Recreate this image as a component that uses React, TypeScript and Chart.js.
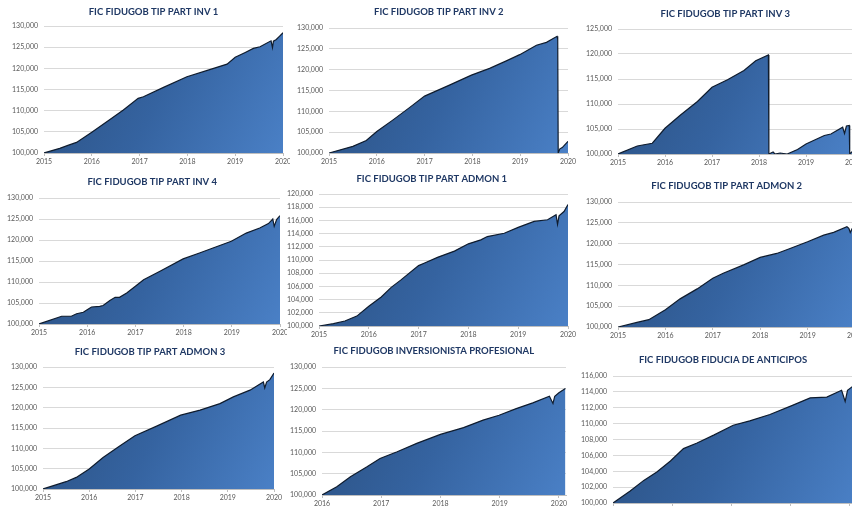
import React, { useEffect, useRef } from "react";
import { Chart, registerables } from "chart.js";

Chart.register(...registerables);

// ---------- DATA ----------
const yearTicks2015 = [2015, 2016, 2017, 2018, 2019, 2020];
const yearTicks2016 = [2016, 2017, 2018, 2019, 2020];

const inv1Years = [2015.0, 2015.33, 2015.5, 2015.68, 2016.0, 2016.35, 2016.66, 2016.97, 2017.08, 2017.5, 2017.99, 2018.4, 2018.83, 2019.0, 2019.2, 2019.38, 2019.52, 2019.75, 2019.78, 2019.8, 2019.86, 2019.93, 2020.0];
const inv1Values = [100000, 101100, 101800, 102500, 104900, 107650, 110150, 112900, 113300, 115500, 118000, 119450, 121000, 122600, 123700, 124700, 125100, 126500, 124900, 126400, 126800, 127600, 128400];

const inv2Years = [2015.0, 2015.5, 2015.78, 2016.0, 2016.34, 2016.69, 2017.0, 2017.52, 2017.98, 2018.36, 2018.71, 2018.99, 2019.34, 2019.55, 2019.77, 2019.785, 2019.795, 2019.83, 2019.88, 2020.0];
const inv2Values = [100000, 101600, 103000, 105150, 107950, 110950, 113650, 116300, 118700, 120300, 122100, 123600, 125850, 126550, 128000, 127200, 100000, 101000, 101300, 102800];

const inv3Years = [2015.0, 2015.41, 2015.73, 2016.0, 2016.33, 2016.69, 2017.0, 2017.33, 2017.68, 2017.93, 2018.2, 2018.21, 2018.3, 2018.34, 2018.45, 2018.6, 2018.82, 2019.0, 2019.39, 2019.53, 2019.78, 2019.82, 2019.86, 2019.92, 2019.93, 2020.0];
const inv3Values = [100000, 101600, 102150, 105150, 107800, 110500, 113350, 114850, 116700, 118650, 119800, 100000, 100400, 100000, 100200, 100000, 100900, 102000, 103700, 104000, 105350, 104100, 105600, 105700, 100000, 100600];

const inv4Years = [2015.0, 2015.47, 2015.67, 2015.78, 2015.92, 2016.0, 2016.09, 2016.26, 2016.33, 2016.47, 2016.58, 2016.67, 2016.82, 2017.0, 2017.17, 2017.51, 2017.99, 2018.33, 2018.61, 2018.99, 2019.3, 2019.58, 2019.76, 2019.85, 2019.88, 2019.93, 2020.0];
const inv4Values = [100000, 101850, 101850, 102450, 102800, 103400, 104050, 104200, 104400, 105600, 106350, 106350, 107400, 109000, 110550, 112550, 115500, 116900, 118100, 119700, 121650, 122850, 123900, 125000, 123250, 124850, 125800];

const admon1Years = [2015.0, 2015.29, 2015.52, 2015.76, 2016.0, 2016.25, 2016.45, 2016.64, 2017.0, 2017.11, 2017.38, 2017.72, 2018.0, 2018.25, 2018.38, 2018.72, 2019.0, 2019.32, 2019.59, 2019.76, 2019.79, 2019.82, 2019.92, 2020.0];
const admon1Values = [100000, 100350, 100750, 101500, 103000, 104400, 105850, 106950, 109150, 109500, 110400, 111350, 112450, 113050, 113550, 114050, 114950, 115850, 116100, 116850, 115400, 116700, 117350, 118400];

const admon2Years = [2015.0, 2015.4, 2015.65, 2016.0, 2016.31, 2016.67, 2017.0, 2017.22, 2017.65, 2018.0, 2018.35, 2018.63, 2019.0, 2019.34, 2019.55, 2019.83, 2019.87, 2019.9, 2019.94, 2020.0];
const admon2Values = [100000, 101100, 101750, 104150, 106750, 109150, 111700, 112900, 114900, 116700, 117650, 118850, 120450, 122050, 122700, 124050, 123700, 122700, 123600, 124500];

const admon3Years = [2015.0, 2015.5, 2015.72, 2016.0, 2016.3, 2016.66, 2016.99, 2017.46, 2017.98, 2018.4, 2018.83, 2019.12, 2019.48, 2019.77, 2019.8, 2019.84, 2019.91, 2020.0];
const admon3Values = [100000, 101800, 102850, 104900, 107750, 110550, 113100, 115450, 118150, 119400, 121000, 122650, 124300, 126300, 124850, 126300, 126900, 128500];

const profYears = [2016.0, 2016.25, 2016.48, 2016.76, 2016.98, 2017.27, 2017.6, 2018.0, 2018.39, 2018.72, 2018.99, 2019.28, 2019.56, 2019.84, 2019.9, 2019.93, 2020.0, 2020.11];
const profValues = [100000, 101950, 104300, 106600, 108550, 110150, 112100, 114200, 115800, 117550, 118700, 120250, 121600, 123150, 121450, 123150, 123950, 124950];

const antYears = [2016.0, 2016.29, 2016.52, 2016.74, 2016.97, 2017.19, 2017.42, 2017.7, 2018.03, 2018.31, 2018.65, 2019.03, 2019.33, 2019.61, 2019.86, 2019.92, 2019.96, 2020.03, 2020.1];
const antValues = [100000, 101500, 102850, 103900, 105300, 106850, 107550, 108550, 109800, 110350, 111150, 112300, 113250, 113350, 114200, 112800, 114200, 114600, 115000];

const titles = [
  "FIC FIDUGOB TIP PART INV 1",
  "FIC FIDUGOB TIP PART INV 2",
  "FIC FIDUGOB TIP PART INV 3",
  "FIC FIDUGOB TIP PART INV 4",
  "FIC FIDUGOB TIP PART ADMON 1",
  "FIC FIDUGOB TIP PART ADMON 2",
  "FIC FIDUGOB TIP PART ADMON 3",
  "FIC FIDUGOB INVERSIONISTA PROFESIONAL",
  "FIC FIDUGOB FIDUCIA DE ANTICIPOS",
];

// ---------- LAYOUT ----------
type Box = { l: number; t: number; w: number; h: number };
type Area = { l: number; t: number; r: number; b: number };
type Panel = {
  title: string;
  xs: number[];
  ys: number[];
  xTicks: number[];
  xMin: number;
  xMax: number;
  yMin: number;
  yMax: number;
  yStep: number;
  clip: Box;
  area: Area;
  gap: number;
  titleX: number;
};

const panels: Panel[] = [
  { title: titles[0], xs: inv1Years, ys: inv1Values, xTicks: yearTicks2015, xMin: 2015, xMax: 2020, yMin: 100000, yMax: 130000, yStep: 5000, clip: { l: 0, t: 0, w: 290, h: 170 }, area: { l: 44, t: 26, r: 283, b: 153 }, gap: 14.5, titleX: 153.5 },
  { title: titles[1], xs: inv2Years, ys: inv2Values, xTicks: yearTicks2015, xMin: 2015, xMax: 2020, yMin: 100000, yMax: 130000, yStep: 5000, clip: { l: 290, t: 0, w: 290, h: 170 }, area: { l: 329, t: 28, r: 568, b: 153 }, gap: 16, titleX: 438.8 },
  { title: titles[2], xs: inv3Years, ys: inv3Values, xTicks: yearTicks2015, xMin: 2015, xMax: 2020, yMin: 100000, yMax: 125000, yStep: 5000, clip: { l: 580, t: 0, w: 272, h: 170 }, area: { l: 618, t: 29, r: 853, b: 154 }, gap: 15, titleX: 725.3 },
  { title: titles[3], xs: inv4Years, ys: inv4Values, xTicks: yearTicks2015, xMin: 2015, xMax: 2020, yMin: 100000, yMax: 130000, yStep: 5000, clip: { l: 0, t: 170, w: 287, h: 170 }, area: { l: 39, t: 198, r: 280, b: 324 }, gap: 16, titleX: 152.2 },
  { title: titles[4], xs: admon1Years, ys: admon1Values, xTicks: yearTicks2015, xMin: 2015, xMax: 2020, yMin: 100000, yMax: 120000, yStep: 2000, clip: { l: 287, t: 170, w: 293, h: 170 }, area: { l: 319, t: 194, r: 568, b: 326 }, gap: 15, titleX: 431.8 },
  { title: titles[5], xs: admon2Years, ys: admon2Values, xTicks: yearTicks2015, xMin: 2015, xMax: 2020, yMin: 100000, yMax: 130000, yStep: 5000, clip: { l: 580, t: 170, w: 272, h: 170 }, area: { l: 618, t: 202, r: 855, b: 327 }, gap: 16, titleX: 726.7 },
  { title: titles[6], xs: admon3Years, ys: admon3Values, xTicks: yearTicks2015, xMin: 2015, xMax: 2020, yMin: 100000, yMax: 130000, yStep: 5000, clip: { l: 0, t: 340, w: 290, h: 168 }, area: { l: 43, t: 367, r: 274, b: 489 }, gap: 15, titleX: 150 },
  { title: titles[7], xs: profYears, ys: profValues, xTicks: yearTicks2016, xMin: 2016, xMax: 2020.12, yMin: 100000, yMax: 130000, yStep: 5000, clip: { l: 290, t: 340, w: 290, h: 168 }, area: { l: 322, t: 367, r: 566, b: 495 }, gap: 16, titleX: 433.8 },
  { title: titles[8], xs: antYears, ys: antValues, xTicks: yearTicks2016, xMin: 2016, xMax: 2020.12, yMin: 100000, yMax: 116000, yStep: 2000, clip: { l: 580, t: 340, w: 272, h: 168 }, area: { l: 613, t: 376, r: 857, b: 503 }, gap: 16, titleX: 723 },
];

const Y_AXIS_W = 44;
const TOP_ROOM = 24;
const PAD_RIGHT = 16;
const X_AXIS_H = 18;
const TITLE_FONT = 9.5;
const TICK_FONT = 7;

function AreaPanel({ p }: { p: Panel }) {
  const ref = useRef<HTMLCanvasElement | null>(null);
  const pageLeft = p.area.l - Y_AXIS_W;
  const pageTop = p.area.t - TOP_ROOM;
  const width = Y_AXIS_W + (p.area.r - p.area.l) + PAD_RIGHT;
  const height = TOP_ROOM + (p.area.b - p.area.t) + X_AXIS_H;

  useEffect(() => {
    if (!ref.current) return;
    const points = p.xs.map((x, i) => ({ x, y: p.ys[i] }));
    const titlePlugin = {
      id: "panelTitle",
      afterDraw(chart: any) {
        const ctx = chart.ctx;
        ctx.save();
        ctx.font = `bold ${TITLE_FONT}px Lato`;
        ctx.fillStyle = "#1f3864";
        ctx.textAlign = "center";
        ctx.textBaseline = "middle";
        ctx.fillText(p.title, p.titleX - pageLeft, chart.chartArea.top - p.gap);
        ctx.restore();
      },
    };
    const chart = new Chart(ref.current, {
      type: "line",
      data: {
        datasets: [
          {
            data: points,
            fill: "start",
            borderColor: "#0f1c2e",
            borderWidth: 1.2,
            pointRadius: 0,
            tension: 0,
            backgroundColor: (ctx: any) => {
              const a = ctx.chart.chartArea;
              if (!a) return "#3a6aa8";
              const g = ctx.chart.ctx.createLinearGradient(a.left, a.top, a.right, a.bottom);
              g.addColorStop(0, "#2a4f7f");
              g.addColorStop(0.5, "#3563a0");
              g.addColorStop(1, "#4a80c6");
              return g;
            },
          },
        ],
      },
      options: {
        animation: false,
        responsive: true,
        maintainAspectRatio: false,
        layout: { padding: { left: 0, top: TOP_ROOM, right: PAD_RIGHT, bottom: 0 } },
        plugins: {
          legend: { display: false },
          tooltip: { enabled: false },
          title: { display: false },
        },
        scales: {
          x: {
            type: "linear",
            min: p.xMin,
            max: p.xMax,
            afterBuildTicks: (scale: any) => {
              scale.ticks = p.xTicks.map((v) => ({ value: v }));
            },
            afterFit: (scale: any) => {
              scale.height = X_AXIS_H;
            },
            ticks: {
              autoSkip: false,
              maxRotation: 0,
              minRotation: 0,
              padding: 2,
              color: "#595959",
              font: { family: "Lato", size: TICK_FONT },
              callback: (v: any) => String(v),
            },
            grid: { drawOnChartArea: false, drawTicks: true, tickLength: 3, color: "#bfbfbf" },
            border: { display: true, color: "#bfbfbf", width: 1 },
          },
          y: {
            type: "linear",
            min: p.yMin,
            max: p.yMax,
            afterFit: (scale: any) => {
              scale.width = Y_AXIS_W;
            },
            ticks: {
              stepSize: p.yStep,
              padding: 6,
              color: "#595959",
              font: { family: "Lato", size: TICK_FONT },
              callback: (v: any) => Number(v).toLocaleString("en-US"),
            },
            grid: { color: "#d9d9d9", drawTicks: false, lineWidth: 1 },
            border: { display: false },
          },
        },
      },
      plugins: [titlePlugin],
    } as any);
    return () => chart.destroy();
  }, [p]);

  return (
    <div
      style={{
        position: "absolute",
        left: p.clip.l,
        top: p.clip.t,
        width: p.clip.w,
        height: p.clip.h,
        overflow: "hidden",
      }}
    >
      <div
        style={{
          position: "absolute",
          left: pageLeft - p.clip.l,
          top: pageTop - p.clip.t,
          width,
          height,
        }}
      >
        <canvas ref={ref} />
      </div>
    </div>
  );
}

export default function App() {
  return (
    <div
      style={{
        position: "absolute",
        left: 0,
        top: 0,
        width: 852,
        height: 508,
        overflow: "hidden",
        background: "#ffffff",
      }}
    >
      {panels.map((p, i) => (
        <AreaPanel key={i} p={p} />
      ))}
    </div>
  );
}
